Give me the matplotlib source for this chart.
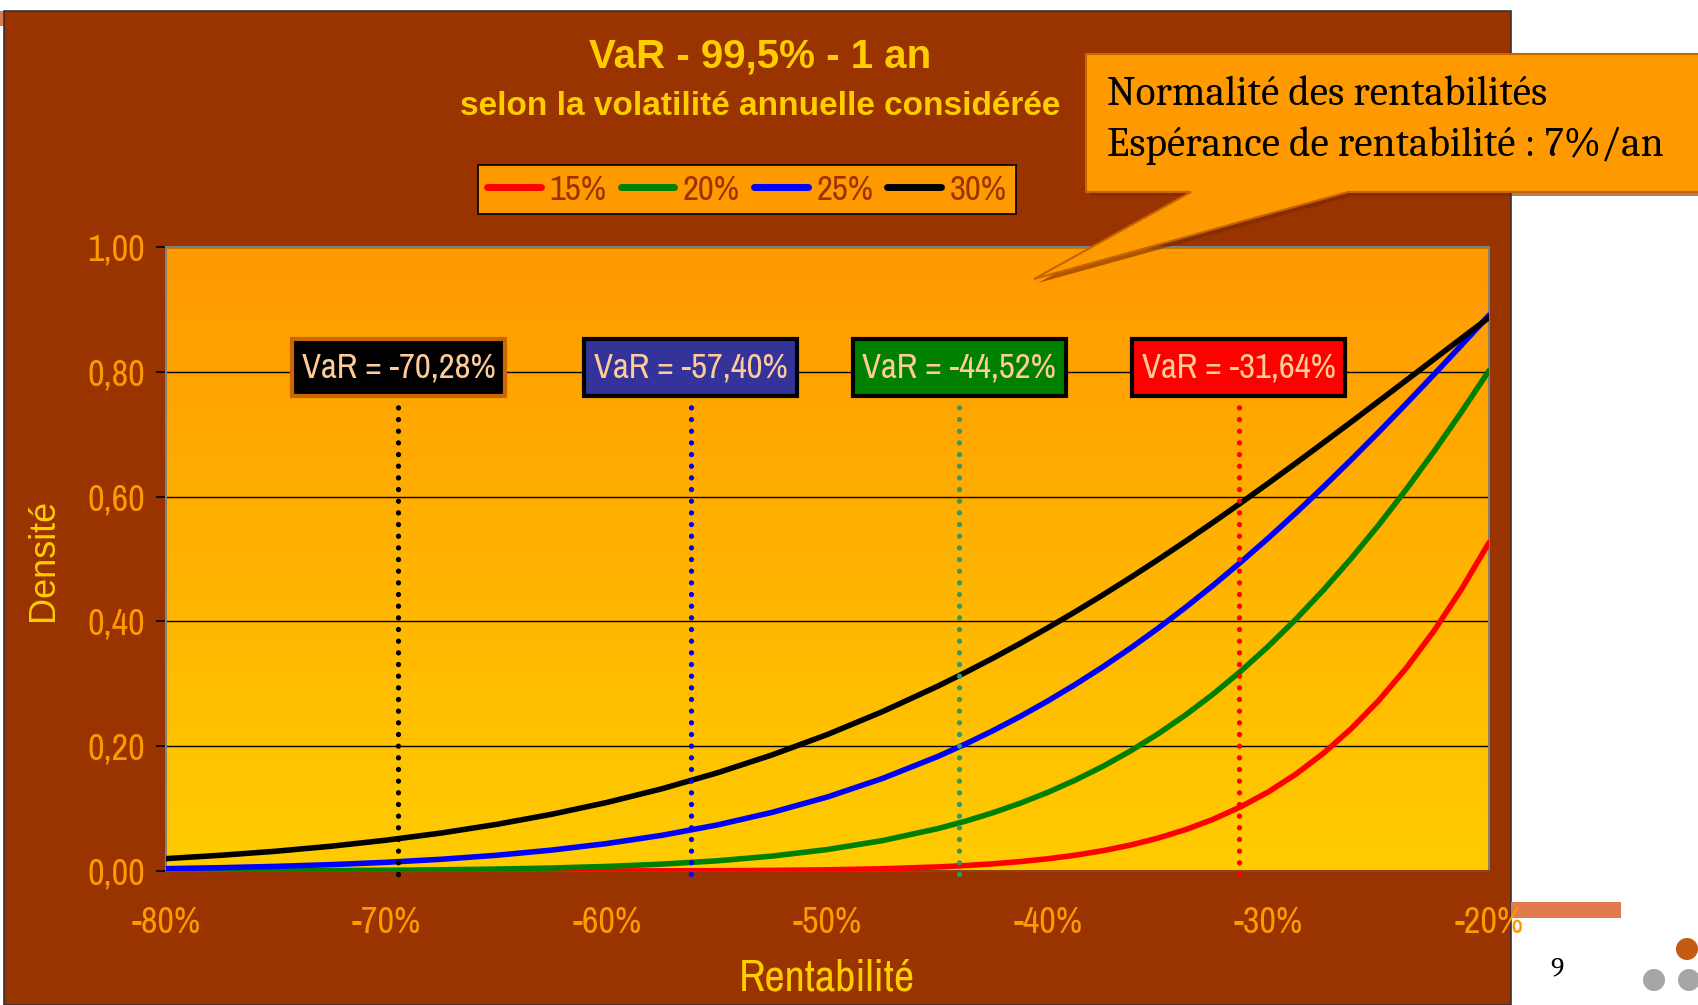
import numpy as np
import matplotlib
matplotlib.use("Agg")
import matplotlib.pyplot as plt
from matplotlib import font_manager
from matplotlib.patches import Rectangle, Polygon, Ellipse
from matplotlib.colors import LinearSegmentedColormap
from matplotlib.lines import Line2D

# ---------------- data ----------------
x_pct = [-80, -77.5, -75, -72.5, -70, -67.5, -65, -62.5, -60, -57.5, -55, -52.5,
         -50, -47.5, -45, -43.75, -42.5, -41.25, -40, -38.75, -37.5, -36.25, -35,
         -33.75, -32.5, -31.25, -30, -28.75, -27.5, -26.25, -25, -23.75, -22.5,
         -21.25, -20]
dens_15 = [0.0000, 0.0000, 0.0000, 0.0000, 0.0000, 0.0000, 0.0000, 0.0001, 0.0001,
           0.0003, 0.0005, 0.0010, 0.0019, 0.0036, 0.0065, 0.0087, 0.0115, 0.0151,
           0.0196, 0.0254, 0.0326, 0.0416, 0.0528, 0.0664, 0.0830, 0.1030, 0.1269,
           0.1554, 0.1889, 0.2280, 0.2732, 0.3253, 0.3845, 0.4515, 0.5263]
dens_20 = [0.0002, 0.0003, 0.0004, 0.0007, 0.0012, 0.0019, 0.0031, 0.0048, 0.0073,
           0.0110, 0.0163, 0.0239, 0.0344, 0.0487, 0.0679, 0.0797, 0.0933, 0.1087,
           0.1261, 0.1458, 0.1678, 0.1925, 0.2199, 0.2503, 0.2837, 0.3204, 0.3603,
           0.4037, 0.4505, 0.5009, 0.5546, 0.6117, 0.6721, 0.7356, 0.8019]
dens_25 = [0.0037, 0.0053, 0.0074, 0.0102, 0.0139, 0.0188, 0.0252, 0.0335, 0.0440,
           0.0572, 0.0737, 0.0940, 0.1186, 0.1483, 0.1834, 0.2033, 0.2247, 0.2478,
           0.2726, 0.2991, 0.3273, 0.3573, 0.3891, 0.4227, 0.4580, 0.4951, 0.5337,
           0.5740, 0.6158, 0.6590, 0.7034, 0.7490, 0.7955, 0.8427, 0.8906]
dens_30 = [0.0198, 0.0252, 0.0317, 0.0397, 0.0494, 0.0609, 0.0747, 0.0909, 0.1098,
           0.1318, 0.1572, 0.1861, 0.2187, 0.2554, 0.2961, 0.3180, 0.3409, 0.3648,
           0.3898, 0.4157, 0.4426, 0.4704, 0.4991, 0.5286, 0.5589, 0.5899, 0.6216,
           0.6538, 0.6865, 0.7195, 0.7529, 0.7864, 0.8200, 0.8536, 0.8870]
series_labels = ["15%", "20%", "25%", "30%"]

var_labels = ["VaR = -70,28%", "VaR = -57,40%", "VaR = -44,52%", "VaR = -31,64%"]
var_line_x = [-69.45, -56.20, -44.02, -31.34]   # positions
var_label_y = 0.807

xticks = [-80, -70, -60, -50, -40, -30, -20]
xtick_labels = ["-80%", "-70%", "-60%", "-50%", "-40%", "-30%", "-20%"]
yticks = [0.0, 0.2, 0.4, 0.6, 0.8, 1.0]
ytick_labels = ["0,00", "0,20", "0,40", "0,60", "0,80", "1,00"]

# ---------------- fonts ----------------
names = {f.name for f in font_manager.fontManager.ttflist}

def pick(options):
    for o in options:
        if o in names:
            return o
    return options[-1]

NARROW = pick(["Liberation Sans Narrow", "Arial Narrow", "Archivo Narrow", "Liberation Sans"])
SERIF = pick(["Caladea", "Cambria", "Liberation Serif"])
SANS = "Liberation Sans"

BROWN = "#993300"
ORANGE = "#FF9900"
YELLOW = "#FFCC00"
line_colors = ["#FF0000", "#008000", "#0000FF", "#000000"]
box_colors = ["#000000", "#333399", "#008000", "#FF0000"]
dot_colors = ["#000000", "#0000FF", "#339966", "#FF0000"]

W, H = 1698, 1005
fig = plt.figure(figsize=(W / 100, H / 100), dpi=100)
fig.patch.set_facecolor("white")

def fx(px):
    return px / W

def fy(py):
    return 1 - py / H

# slide decorations
fig.patches.append(Rectangle((0, fy(26)), fx(6), fy(11) - fy(26), transform=fig.transFigure,
                             facecolor="#E07B50", edgecolor="none", zorder=-2))
fig.patches.append(Rectangle((fx(4), 0), fx(1511 - 4), fy(11), transform=fig.transFigure,
                             facecolor=BROWN, edgecolor="#333333", lw=1.2, zorder=-1))
fig.patches.append(Rectangle((fx(1511), fy(918)), fx(110), fy(902) - fy(918),
                             transform=fig.transFigure, facecolor="#E07B50",
                             edgecolor="none", zorder=-1))
fig.text(fx(1557), fy(969), "9", family=SERIF, fontsize=20, color="black",
         ha="center", va="center")
for cx, cy, col in [(1687, 949, "#C55A11"), (1654, 980, "#A6A6A6"), (1689, 980, "#A6A6A6")]:
    fig.patches.append(Ellipse((fx(cx), fy(cy)), 22 / W, 22 / H, transform=fig.transFigure,
                               facecolor=col, edgecolor="none", zorder=-1))

# ---------------- axes ----------------
ax = fig.add_axes([fx(165.7), fy(871), fx(1489 - 165.7), fy(247) - fy(871)])
ax.set_zorder(5)
ax.set_facecolor(YELLOW)
cmap = LinearSegmentedColormap.from_list("bg", [ORANGE, YELLOW])
ax.imshow(np.linspace(0, 1, 256).reshape(-1, 1), extent=[-80, -20, 0, 1],
          aspect="auto", cmap=cmap, origin="upper", zorder=0)

for yv in yticks[1:]:
    ax.axhline(yv, color="black", lw=1.0, zorder=1)

for ys, col, lab in zip([dens_15, dens_20, dens_25, dens_30], line_colors, series_labels):
    ax.plot(x_pct, ys, color=col, lw=4.0, label=lab, zorder=3, solid_capstyle="round",
            solid_joinstyle="round")

for xv, col in zip(var_line_x, dot_colors):
    ax.plot([xv, xv], [-0.005, 0.76], color=col, lw=3.8,
            linestyle=(0, (0.01, 2.2)), dash_capstyle="round", zorder=4, clip_on=False)

box_w = 9.66 / 2
for xv, lab, bc in zip(var_line_x, var_labels, box_colors):
    ec = "#CC6600" if bc == "#000000" else "black"
    ax.add_patch(Rectangle((xv - box_w, 0.7612), 2 * box_w, 0.0914, facecolor=bc,
                           edgecolor=ec, lw=3, zorder=5))
    ax.text(xv, var_label_y, lab, family=NARROW, fontsize=25, color="#FFCC99",
            ha="center", va="center", zorder=6)

ax.set_xlim(-80, -20)
ax.set_ylim(0, 1)
ax.set_xticks(xticks)
ax.set_xticklabels(xtick_labels)
ax.set_yticks(yticks)
ax.set_yticklabels(ytick_labels)
for t in ax.get_xticklabels() + ax.get_yticklabels():
    t.set_family(NARROW)
    t.set_fontsize(26)
    t.set_color(ORANGE)
ax.tick_params(axis="x", length=0, pad=25)
ax.tick_params(axis="y", length=7, width=1.2, color="black", pad=8)
for s in ax.spines.values():
    s.set_color("#808080")
    s.set_linewidth(1.5)
ax.spines["bottom"].set_color("#8B4513")

ax.set_xlabel("Rentabilité", family=NARROW, fontsize=32, color=YELLOW, labelpad=14)
fig.text(fx(43), fy(560), "Densité", family=SANS, fontsize=26, color=YELLOW,
         rotation=90, ha="center", va="center")

# titles
fig.text(fx(760), fy(56), "VaR - 99,5% - 1 an", family=SANS, fontsize=29,
         fontweight="bold", color=YELLOW, ha="center", va="center")
fig.text(fx(760), fy(106), "selon la volatilité annuelle considérée", family=SANS,
         fontsize=24, fontweight="bold", color=YELLOW, ha="center", va="center")

# legend
handles = [Line2D([0], [0], color=c, lw=5, solid_capstyle="round") for c in line_colors]
leg = fig.legend(handles, series_labels, loc="center",
                 bbox_to_anchor=(fx(747), fy(189.5)), ncol=4, frameon=True,
                 prop={"family": NARROW, "size": 25}, handlelength=1.55,
                 handletextpad=0.25, columnspacing=0.4, borderpad=0.25,
                 fancybox=False, labelcolor=BROWN)
leg.get_frame().set_facecolor(ORANGE)
leg.get_frame().set_edgecolor("black")
leg.get_frame().set_linewidth(1.2)
leg.get_frame().set_alpha(1)

# callout
pts = [(1086, 54), (1710, 54), (1710, 192), (1348, 192), (1034, 279), (1191, 192), (1086, 192)]
shadow = [(fx(x + 4), fy(y + 4)) for x, y in pts]
fig.patches.append(Polygon(shadow, closed=True, transform=fig.transFigure,
                           facecolor="#7A2900", edgecolor="none", alpha=0.6, zorder=8))
fig.patches.append(Polygon([(fx(x), fy(y)) for x, y in pts], closed=True,
                           transform=fig.transFigure, facecolor=ORANGE,
                           edgecolor="#C86400", lw=1.5, zorder=9))
csize = 29.8 if SERIF == "Caladea" else 31
fig.text(fx(1107), fy(95), "Normalité des rentabilités", family=SERIF, fontsize=csize,
         color="black", ha="left", va="center", zorder=10)
fig.text(fx(1107), fy(146), "Espérance de rentabilité : 7%/an", family=SERIF,
         fontsize=csize, color="black", ha="left", va="center", zorder=10)

fig.savefig("out.png", dpi=100)
